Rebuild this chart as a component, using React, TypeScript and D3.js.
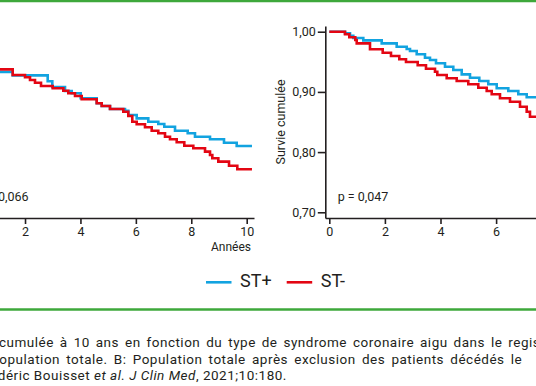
import React, { useEffect, useRef } from "react";
import * as d3 from "d3";

// Kaplan-Meier steps: [years, cumulative survival]
// Panel A (total population) - only the right part is visible in the crop
const panelA_STplus = [
  [0, 0.9331], [1.555, 0.9275], [2.818, 0.9176], [2.985, 0.9081], [3.443, 0.9015],
  [3.685, 0.8977], [4.009, 0.8894], [4.587, 0.8811], [4.767, 0.8766], [5.067, 0.8716],
  [5.608, 0.8688], [5.727, 0.8616], [6.03, 0.8561], [6.449, 0.8505], [6.81, 0.8467],
  [7.026, 0.8422], [7.413, 0.8355], [7.871, 0.8312], [8.134, 0.8256], [8.676, 0.8213],
  [9.181, 0.8156], [9.639, 0.8101], [10.19, 0.8101],
];
const panelA_STminus = [
  [0, 0.9375], [1.555, 0.9281], [2.0, 0.9243], [2.18, 0.9198], [2.36, 0.9153],
  [2.577, 0.9098], [2.999, 0.906], [3.382, 0.902], [3.562, 0.8977], [3.804, 0.8932],
  [4.045, 0.8877], [4.587, 0.8811], [4.767, 0.8766], [5.067, 0.8716], [5.547, 0.8671],
  [5.727, 0.86], [5.871, 0.8505], [6.03, 0.8462], [6.33, 0.8412], [6.572, 0.8355],
  [6.81, 0.8312], [7.052, 0.8256], [7.232, 0.8213], [7.474, 0.8163], [7.748, 0.8106],
  [8.073, 0.8063], [8.496, 0.8007], [8.676, 0.7952], [8.759, 0.7897], [8.976, 0.7841],
  [9.362, 0.7774], [9.661, 0.7714], [10.19, 0.7714],
];
// Panel B (after exclusion of in-hospital deaths) - cut at the right edge
const panelB_STplus = [
  [0, 1.0], [0.565, 0.9973], [0.745, 0.9934], [0.863, 0.9895], [1.223, 0.9857],
  [1.885, 0.9807], [2.424, 0.9751], [2.784, 0.9713], [2.903, 0.9679], [3.144, 0.9625],
  [3.442, 0.9568], [3.622, 0.953], [3.838, 0.9475], [4.162, 0.9419], [4.46, 0.9364],
  [4.763, 0.9292], [5.061, 0.9236], [5.396, 0.9181], [5.719, 0.9126], [6.022, 0.906],
  [6.439, 0.9015], [6.799, 0.896], [7.101, 0.891], [7.6, 0.891],
];
const panelB_STminus = [
  [0, 1.0], [0.565, 0.9957], [0.719, 0.9907], [0.935, 0.9862], [0.986, 0.9807],
  [1.464, 0.9708], [1.921, 0.9651], [2.219, 0.9596], [2.518, 0.9542], [2.759, 0.9497],
  [3.18, 0.9442], [3.478, 0.9385], [3.802, 0.9336], [3.885, 0.9281], [4.223, 0.9226],
  [4.583, 0.9181], [5.0, 0.9126], [5.36, 0.907], [5.662, 0.9015], [5.842, 0.896],
  [6.14, 0.8894], [6.5, 0.8837], [6.86, 0.8754], [7.101, 0.8671], [7.219, 0.8588],
  [7.6, 0.8588],
];

const xTicks = [0, 2, 4, 6, 8, 10];
const yTicks = [0.7, 0.8, 0.9, 1.0];
const seriesNames = ["ST+", "ST-"];
const seriesColors = ["#12a3e0", "#e30613"];
const pValues = ["p = 0,066", "p = 0,047"];

const captionLines = [
  "cumulée à 10 ans en fonction du type de syndrome coronaire aigu dans le registre",
  "Population totale. B: Population totale après exclusion des patients décédés le",
];

const width = 536;
const height = 386;
const axisColor = "#231f20";
const font = "Roboto, 'DejaVu Sans', sans-serif";
const green = "#3ea83b";

const yScale = d3.scaleLinear().domain([0.6905, 1.0095]).range([218, 26]);

// each panel: position of the y axis, px per year
const panels = [
  { axisX: -34.4, perYear: 27.71, xEnd: 254, data: [panelA_STplus, panelA_STminus], p: pValues[0], yLabel: false, annees: true },
  { axisX: 325.3, perYear: 27.8, xEnd: 600, data: [panelB_STplus, panelB_STminus], p: pValues[1], yLabel: true, annees: false },
];

function Panel({ panel }: { panel: any }) {
  const xRef = useRef<SVGGElement>(null);
  const yRef = useRef<SVGGElement>(null);

  // x = 0 sits 4px to the right of the y axis
  const x0 = panel.axisX + 4;
  const xScale = d3
    .scaleLinear()
    .domain([-4 / panel.perYear, (panel.xEnd - x0) / panel.perYear])
    .range([panel.axisX, panel.xEnd]);

  useEffect(() => {
    const xAxis = d3
      .axisBottom(xScale)
      .tickValues(xTicks)
      .tickSize(6)
      .tickSizeOuter(0)
      .tickPadding(3)
      .tickFormat((d: any) => String(d));
    const gx = d3.select(xRef.current!);
    gx.selectAll("*").remove();
    gx.call(xAxis as any);
    const yAxis = d3
      .axisLeft(yScale)
      .tickValues(yTicks)
      .tickSize(7.5)
      .tickSizeOuter(0)
      .tickPadding(2)
      .tickFormat((d: any) => d3.format(".2f")(d).replace(".", ","));
    const gy = d3.select(yRef.current!);
    gy.selectAll("*").remove();
    gy.call(yAxis as any);
    for (const g of [gx, gy]) {
      g.attr("font-family", font).attr("font-size", 12.5);
      g.selectAll("path, line").attr("stroke", axisColor).attr("stroke-width", 1.6);
      g.selectAll("text").attr("fill", axisColor);
    }
  }, [panel]);

  const line = d3
    .line<number[]>()
    .curve(d3.curveStepAfter)
    .x((d) => xScale(d[0]))
    .y((d) => yScale(d[1]));

  return (
    <g>
      {panel.data.map((s: number[][], i: number) => (
        <path
          key={i}
          d={line(s) || ""}
          fill="none"
          stroke={seriesColors[i]}
          strokeWidth={2.6}
        />
      ))}
      <g ref={xRef} transform="translate(0,218)" />
      <g ref={yRef} transform={`translate(${panel.axisX},0)`} />
      <text x={panel.axisX + 12.4} y={200.5} fontFamily={font} fontSize={12.5} fill={axisColor}>
        {panel.p}
      </text>
      {panel.yLabel && (
        <text
          transform={`translate(${panel.axisX - 40},122) rotate(-90)`}
          textAnchor="middle"
          fontFamily={font}
          fontSize={12.5}
          fill={axisColor}
        >
          Survie cumulée
        </text>
      )}
      {panel.annees && (
        <text x={251} y={250.5} textAnchor="end" fontFamily={font} fontSize={12} fill={axisColor}>
          Années
        </text>
      )}
    </g>
  );
}

export default function App() {
  return (
    <svg
      width={width}
      height={height}
      style={{ position: "absolute", left: 0, top: 0, background: "#fff" }}
    >
      <rect width={width} height={height} fill="#fff" />
      <line x1={0} x2={width} y1={1} y2={1} stroke={green} strokeWidth={2.4} />
      {panels.map((p, i) => (
        <Panel key={i} panel={p} />
      ))}
      {seriesNames.map((name, i) => (
        <g key={name} transform={`translate(${i === 0 ? 206 : 286.7},0)`}>
          <line x1={0} x2={25.5} y1={282.3} y2={282.3} stroke={seriesColors[i]} strokeWidth={2.6} />
          <text x={34} y={287} fontFamily={font} fontSize={18} fill={axisColor}>
            {name}
          </text>
        </g>
      ))}
      <line x1={0} x2={width} y1={309.5} y2={309.5} stroke={green} strokeWidth={2.4} />
      {/* justified caption: extra word spacing on the full lines */}
      <g fontFamily={font} fontSize={13.5} letterSpacing={0.5} fill={axisColor}>
        <text x={-1} y={347.3} wordSpacing={2.1}>{captionLines[0]}</text>
        <text x={-9.6} y={363.8} wordSpacing={2.4}>{captionLines[1]}</text>
        <text x={-22.6} y={380.2}>
          Frédéric Bouisset <tspan fontStyle="italic">et al. J Clin Med</tspan>, 2021;10:180.
        </text>
      </g>
    </svg>
  );
}
